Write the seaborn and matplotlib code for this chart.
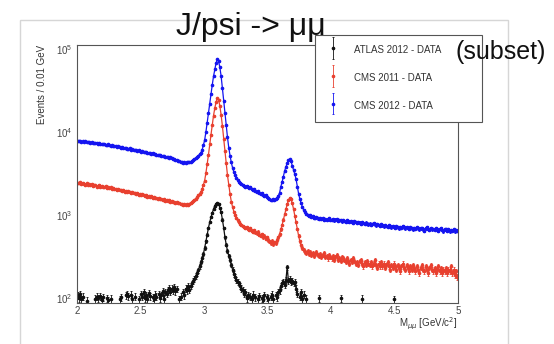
import numpy as np
import pandas as pd
import matplotlib
matplotlib.use('Agg')
import matplotlib.pyplot as plt
import seaborn as sns
from matplotlib.patches import Rectangle
from matplotlib.container import ErrorbarContainer
from matplotlib.legend_handler import HandlerErrorbar
from matplotlib.ticker import MultipleLocator, NullFormatter, FixedLocator, FixedFormatter

N = np.nan

# bin centres, 0.01 GeV bins from 2 to 5
mass = np.round(2.005 + 0.01 * np.arange(300), 3)

# CMS 2012 (blue)
cms2012 = [
    7800, 7700, 7900, 7650, 7700, 7600, 7750, 7550, 7600, 7500,
    7450, 7550, 7400, 7350, 7450, 7300, 7250, 7350, 7200, 7150,
    7100, 7200, 7050, 6950, 7100, 6900, 6850, 6950, 6800, 6700,
    6750, 6600, 6700, 6550, 6450, 6600, 6500, 6400, 6450, 6300,
    6250, 6350, 6150, 6200, 6050, 6150, 6000, 5950, 6050, 5850,
    5800, 5900, 5750, 5700, 5800, 5600, 5650, 5550, 5500, 5600,
    5400, 5450, 5350, 5300, 5250, 5350, 5150, 5200, 5100, 5050,
    5000, 4950, 4900, 4950, 4800, 4750, 4700, 4650, 4550, 4500,
    4450, 4350, 4300, 4250, 4300, 4250, 4300, 4350, 4300, 4400,
    4500, 4600, 4700, 4850, 5000, 5200, 5400, 5600, 6100, 6900,
    8000, 10000, 13000, 17000, 22000, 29000, 37000, 47000, 57000, 68000,
    75000, 71000, 60000, 47000, 34000, 24000, 17000, 12000, 8600, 6500,
    5200, 4300, 3700, 3300, 3000, 2800, 2650, 2500, 2400, 2350,
    2300, 2250, 2200, 2250, 2150, 2100, 2180, 2050, 2000, 2050,
    1950, 1900, 1950, 1850, 1800, 1850, 1750, 1700, 1750, 1650,
    1600, 1550, 1520, 1500, 1550, 1500, 1580, 1600, 1700, 1850,
    2200, 2500, 2900, 3400, 3800, 4200, 4550, 4700, 4450, 3950,
    3500, 3100, 2700, 2200, 1800, 1550, 1380, 1250, 1150, 1080,
    1040, 1000, 980, 990, 950, 960, 930, 920, 940, 910,
    900, 920, 890, 910, 880, 900, 870, 890, 910, 880,
    870, 890, 860, 880, 900, 850, 870, 860, 840, 860,
    850, 830, 860, 840, 820, 850, 830, 810, 840, 820,
    800, 830, 810, 790, 820, 800, 780, 810, 790, 770,
    790, 760, 780, 800, 770, 750, 780, 760, 740, 770,
    750, 730, 760, 740, 720, 750, 730, 710, 740, 720,
    700, 730, 710, 690, 720, 700, 740, 710, 690, 720,
    700, 680, 710, 690, 670, 700, 680, 720, 690, 670,
    690, 700, 670, 650, 690, 720, 680, 660, 700, 670,
    680, 660, 690, 670, 650, 680, 700, 660, 640, 670,
    680, 650, 670, 640, 660, 650, 670, 640, 660, 650,
]

# CMS 2011 (red)
cms2011 = [
    2450, 2400, 2480, 2350, 2420, 2380, 2300, 2400, 2330, 2360,
    2300, 2350, 2250, 2320, 2280, 2200, 2260, 2300, 2180, 2240,
    2200, 2150, 2230, 2120, 2180, 2100, 2150, 2080, 2130, 2050,
    2080, 2000, 2060, 1980, 2020, 1950, 2000, 1920, 1970, 1900,
    1930, 1880, 1850, 1900, 1820, 1860, 1790, 1830, 1760, 1800,
    1750, 1780, 1720, 1690, 1740, 1660, 1700, 1640, 1680, 1620,
    1650, 1590, 1620, 1560, 1600, 1540, 1570, 1510, 1550, 1490,
    1520, 1470, 1500, 1440, 1470, 1420, 1450, 1400, 1420, 1380,
    1390, 1350, 1370, 1320, 1340, 1310, 1350, 1330, 1370, 1400,
    1440, 1480, 1530, 1580, 1650, 1720, 1800, 1900, 2050, 2300,
    2600, 3200, 4100, 5300, 7100, 9300, 12200, 15800, 19400, 23000,
    25500, 24500, 20500, 16000, 11800, 8300, 5900, 4200, 3000, 2300,
    1800, 1450, 1250, 1100, 1000, 920, 860, 820, 780, 760,
    740, 720, 700, 710, 680, 660, 690, 650, 630, 660,
    620, 600, 630, 580, 560, 590, 540, 560, 520, 540,
    500, 480, 460, 490, 450, 470, 460, 500, 540, 590,
    670, 760, 880, 1020, 1180, 1350, 1500, 1600, 1550, 1380,
    1180, 980, 820, 680, 560, 480, 430, 400, 380, 360,
    350, 370, 340, 360, 330, 350, 320, 340, 360, 330,
    320, 340, 310, 330, 350, 310, 320, 300, 330, 310,
    300, 320, 290, 310, 330, 290, 300, 280, 310, 300,
    290, 270, 300, 280, 260, 290, 270, 300, 280, 260,
    270, 250, 280, 290, 260, 240, 270, 250, 280, 260,
    250, 270, 240, 260, 290, 250, 230, 260, 240, 270,
    240, 260, 230, 250, 270, 240, 220, 250, 230, 260,
    240, 220, 250, 230, 210, 240, 260, 230, 220, 250,
    230, 210, 240, 220, 250, 230, 210, 240, 220, 200,
    230, 250, 220, 210, 240, 220, 200, 230, 250, 220,
    210, 230, 200, 220, 240, 210, 230, 200, 220, 210,
    230, 200, 220, 210, 240, 200, 220, 190, 210, 180,
]

# ATLAS 2012 subset (black), empty bins left out
atlas2012 = [
    108, 100, 112, 96, 104, N, N, 92, N, N,
    N, N, N, N, 98, 104, 100, N, 106, 95,
    102, N, N, 100, 94, N, 98, N, N, N,
    N, N, N, 96, 102, N, N, N, 108, 112,
    105, N, 110, 98, N, 104, N, N, 96, N,
    112, 104, 118, 100, 108, 96, 114, 106, N, 102,
    98, 110, 104, N, 112, 100, 108, 120, 96, 118,
    112, 126, 132, 118, 130, 124, 136, 120, 128, N,
    96, 104, N, 118, 108, 130, 124, 138, 126, 140,
    150, 160, 170, 185, 200, 215, 240, 270, 300, 340,
    400, 480, 580, 700, 820, 940, 1060, 1180, 1290, 1360,
    1390, 1350, 1230, 1080, 880, 700, 540, 440, 370, 320,
    290, 250, 220, 195, 180, 165, 155, 150, 140, 130,
    125, 112, 118, 100, 108, N, 104, 96, 110, N,
    102, N, 98, 106, N, 100, 94, 108, N, 102,
    98, N, 104, 110, 96, N, 108, 102, 118, 124,
    140, 152, 158, 145, 165, 235, 160, 170, 155, 162,
    150, 158, 130, 112, N, 104, 118, 96, 110, N,
    98, N, N, N, N, N, N, N, N, N,
    100, N, N, N, N, N, N, N, N, N,
    N, N, N, N, N, N, N, 100, N, N,
    N, N, N, N, N, N, N, N, N, N,
    N, N, N, N, 98, N, N, N, N, N,
    N, N, N, N, N, N, N, N, N, N,
    N, N, N, N, N, N, N, N, N, 97,
    N, N, N, N, N, N, N, N, N, N,
    N, N, N, N, N, N, N, N, N, N,
    N, N, N, N, N, N, N, N, N, N,
    N, N, N, N, N, N, N, N, N, N,
    N, N, N, N, N, N, N, N, N, N,
]

labels = ['ATLAS 2012 - DATA', 'CMS 2011 - DATA', 'CMS 2012 - DATA']
colors = ['#111111', '#e8402f', '#1414f0']
xticks = [2, 2.5, 3, 3.5, 4, 4.5, 5]
xticklabels = ['2', '2.5', '3', '3.5', '4', '4.5', '5']

df = pd.DataFrame({'mass': mass, labels[0]: atlas2012,
                   labels[1]: cms2011, labels[2]: cms2012})

sns.set_style('white')
plt.rcParams['font.family'] = ['Liberation Sans', 'DejaVu Sans']

fig = plt.figure(figsize=(5.54, 3.44), dpi=100)
ax = fig.add_axes([77 / 554, 1 - 303 / 344, 381 / 554, 258 / 344])

# grey frame of the slide behind the plot
fig.add_artist(Rectangle((20 / 554, -0.1), 488 / 554, 1.1 - 20 / 344,
                         transform=fig.transFigure, fill=False,
                         edgecolor='#d6d6d6', lw=1.0, zorder=0))

handles = {}
for name, col in zip(labels[::-1], colors[::-1]):
    d = pd.DataFrame({'mass': df['mass'], 'val': df[name],
                      'seg': df[name].isna().cumsum()}).dropna()
    # line broken at empty bins
    sns.lineplot(data=d, x='mass', y='val', units='seg', color=col, lw=0.9,
                 ax=ax, errorbar=None, estimator=None, sort=False, legend=False)
    handles[name] = ax.errorbar(d['mass'], d['val'], yerr=np.sqrt(d['val']),
                                fmt='o', ms=1.6, color=col, ecolor=col,
                                elinewidth=0.6, capsize=0.8, capthick=0.6)

ax.set_yscale('log')
ax.set_xlim(2, 5)
ax.set_ylim(87, 1.12e5)

ax.xaxis.set_major_locator(FixedLocator(xticks))
ax.xaxis.set_major_formatter(FixedFormatter(xticklabels))
ax.xaxis.set_minor_locator(MultipleLocator(0.1))
ax.yaxis.set_minor_formatter(NullFormatter())

ax.tick_params(which='both', direction='in', top=False, right=False,
               colors='#444444', labelsize=7, width=0.7)
ax.tick_params(axis='y', which='major', length=8, pad=3)
ax.tick_params(axis='y', which='minor', length=4)
ax.tick_params(axis='x', which='major', length=6, pad=2)
ax.tick_params(axis='x', which='minor', length=3)
for sp in ax.spines.values():
    sp.set_color('#555555')
    sp.set_linewidth(0.8)

ax.set_ylabel('Events / 0.01 GeV', loc='top', fontsize=7, color='#333333')
ax.yaxis.set_label_coords(-0.08, 1.0)
ax.set_xlabel(r'M$_{\mu\mu}$ [GeV/c$^{2}$]', loc='right', fontsize=7, color='#333333')
ax.xaxis.set_label_coords(1.0, -0.05)

leg = ax.legend([handles[n] for n in labels], labels, loc='upper left',
                bbox_to_anchor=(315 / 554, 1 - 35 / 344, 167 / 554, 0.0),
                bbox_transform=fig.transFigure, mode='expand', borderaxespad=0,
                fancybox=False, framealpha=1, edgecolor='#555555', fontsize=7,
                handlelength=2.2, handleheight=2.2, handletextpad=1.1,
                labelspacing=1.2, borderpad=0.75,
                handler_map={ErrorbarContainer: HandlerErrorbar(yerr_size=1.1)})
leg.get_frame().set_linewidth(0.8)
for t in leg.get_texts():
    t.set_color('#333333')

fig.text(251 / 554, 1 - 35 / 344, 'J/psi -> μμ', ha='center', va='baseline',
         fontsize=23, color='#111111')
fig.text(501 / 554, 1 - 52 / 344, '(subset)', ha='center', va='center',
         fontsize=18, color='#111111', zorder=10)

fig.savefig('out.png', dpi=100)
